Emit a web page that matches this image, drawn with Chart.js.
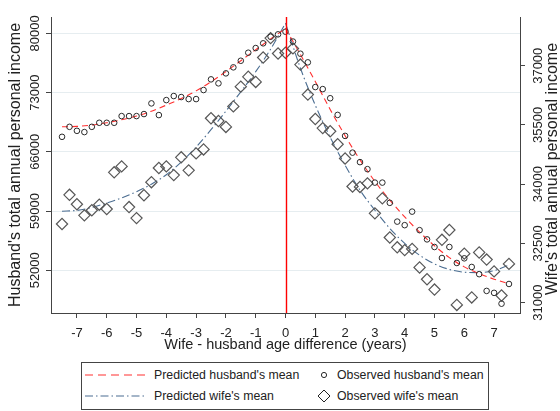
<!DOCTYPE html>
<html>
<head>
<meta charset="utf-8">
<script src="https://cdn.jsdelivr.net/npm/chart.js@4.4.1/dist/chart.umd.min.js"></script>
<style>
  body { margin: 0; background: #fff; }
  #wrap { position: relative; width: 560px; height: 411px; }
  #legend {
    position: absolute; left: 81px; top: 362px; width: 408px; height: 48px;
    box-sizing: border-box; border: 1px solid #444; background: #fff;
    font: 12.3px "Liberation Sans", Arial, sans-serif; color: #222;
  }
  #legend .item { position: absolute; height: 16px; line-height: 16px; white-space: nowrap; }
  #legend svg { position: absolute; top: 0; }
</style>
</head>
<body>
<div id="wrap">
  <canvas id="grafik" width="560" height="411"></canvas>
  <div id="legend"></div>
</div>
<script>
// wife - husband age difference (years), observed points
const ageDiff = [-7.5, -7.25, -7, -6.75, -6.5, -6.25, -6, -5.75, -5.5, -5.25, -5, -4.75, -4.5, -4.25, -4, -3.75,
  -3.5, -3.25, -3, -2.75, -2.5, -2.25, -2, -1.75, -1.5, -1.25, -1, -0.75, -0.5, -0.25, 0,
  0.25, 0.5, 0.75, 1, 1.25, 1.5, 1.75, 2, 2.25, 2.5, 2.75, 3, 3.25, 3.5, 3.75, 4,
  4.25, 4.5, 4.75, 5, 5.25, 5.5, 5.75, 6, 6.25, 6.5, 6.75, 7, 7.25, 7.5];

const husbandObserved = [67770, 68950, 68480, 68330, 68950, 69430, 69430, 69430, 70220, 70220, 70220, 70460, 71720, 70340, 72110, 72590,
  72470, 72230, 72230, 73300, 74560, 74090, 75270, 75980, 76760, 77710, 78260, 78820, 79600, 79880, 80190,
  79030, 77590, 76570, 73650, 73410, 72330, 70360, 67880, 65900, 64780, 63950, 62360, 62360, 59970, 57750, 57330,
  58930, 56740, 55650, 54750, 53450, 54750, 52860, 53410, 52390, 51540, 49560, 49330, 48050, 50380];

const wifeObserved = [32990, 33730, 33490, 33210, 33340, 33480, 33370, 34300, 34450, 33420, 33140, 33720, 34050, 34410, 34450, 34230,
  34680, 34350, 34780, 34880, 35670, 35600, 35450, 35970, 36470, 36720, 36590, 37210, 37700, 37310, 37330,
  37440, 37030, 36270, 35650, 35420, 35340, 35010, 34650, 33940, 33930, 34020, 33260, 33640, 32650, 32400, 32330,
  32360, 31890, 31590, 31330, 32590, 32840, 30940, 32240, 31130, 32270, 32090, 31790, 31180, 31980];

// fitted curves, either side of zero
const predAgeLeft = [-7.5, -7, -6.5, -6, -5.5, -5, -4.5, -4, -3.5, -3, -2.5, -2, -1.5, -1, -0.5, 0];
const predAgeRight = [0, 0.5, 1, 1.5, 2, 2.5, 3, 3.5, 4, 4.5, 5, 5.5, 6, 6.5, 7, 7.5];
const husbandPredLeft = [68960, 69000, 69170, 69430, 69780, 70220, 70800, 71520, 72300, 73200, 74280, 75480, 76760, 78060, 79330, 80570];
const husbandPredRight = [80570, 77500, 74300, 71000, 67900, 65050, 62500, 60300, 58300, 56500, 54900, 53500, 52400, 51600, 50950, 50400];
const wifePredLeft = [33315, 33335, 33410, 33520, 33650, 33810, 34000, 34240, 34560, 34940, 35380, 35850, 36340, 36850, 37420, 38080];
const wifePredRight = [38080, 36940, 36000, 35190, 34480, 33850, 33340, 32880, 32500, 32200, 31980, 31840, 31770, 31760, 31810, 31950];

const ageTicks = [-7, -6, -5, -4, -3, -2, -1, 0, 1, 2, 3, 4, 5, 6, 7];
const husbandTicks = [52000, 59000, 66000, 73000, 80000];
const wifeTicks = [31000, 32500, 34000, 35500, 37000];
const zeroLine = 0;

const husbandRange = [46950, 81930];
const wifeRange = [30736, 38235];
const ageRange = [-7.87, 7.87];

const names = ["Predicted husband's mean", "Observed husband's mean", "Predicted wife's mean", "Observed wife's mean"];
const husbandAxisTitle = "Husband's total annual personal income";
const wifeAxisTitle = "Wife's total annual personal income";
const ageAxisTitle = "Wife - husband age difference (years)";

const RED = "#ff3030";
const BLUE = "#4b6d91";

function pairs(xs, ys) {
    return xs.map(function (x, i) { return { x: x, y: ys[i] }; });
}

document.addEventListener("DOMContentLoaded", function () {
    Chart.defaults.font.family = "'Liberation Sans', Arial, sans-serif";
    Chart.defaults.color = "#222";

    const ctx = document.getElementById("grafik").getContext("2d");

    const lineStyle = { type: "line", showLine: true, pointRadius: 0, borderWidth: 1.1, fill: false, cubicInterpolationMode: "monotone" };

    // red reference line at zero age difference + right-hand axis title
    const extras = {
        id: "extras",
        afterDraw: function (chart) {
            const c = chart.ctx, area = chart.chartArea, s = chart.scales.y2;
            const px = Math.round(chart.scales.x.getPixelForValue(zeroLine)) + 0.5;
            c.save();
            c.strokeStyle = "#ff0000";
            c.lineWidth = 1.4;
            c.beginPath();
            c.moveTo(px, area.top);
            c.lineTo(px, area.bottom);
            c.stroke();
            c.restore();

            c.save();
            c.translate(s.right - 7.5, (area.top + area.bottom) / 2 + 4);
            c.rotate(-Math.PI / 2);
            c.font = "16px 'Liberation Sans', Arial, sans-serif";
            c.fillStyle = "#222";
            c.textAlign = "center";
            c.textBaseline = "middle";
            c.fillText(wifeAxisTitle, 0, 0);
            c.restore();
        }
    };

    new Chart(ctx, {
        type: "scatter",
        data: {
            datasets: [
                { label: names[1], data: pairs(ageDiff, husbandObserved), yAxisID: "y",
                  pointStyle: "circle", pointRadius: 2.8, borderColor: "#2a2a2a", backgroundColor: "rgba(0,0,0,0)", borderWidth: 1 },
                { label: names[3], data: pairs(ageDiff, wifeObserved), yAxisID: "y2",
                  pointStyle: "rectRot", pointRadius: 5.6, borderColor: "#575757", backgroundColor: "rgba(0,0,0,0)", borderWidth: 1.2 },
                Object.assign({ label: names[0], data: pairs(predAgeLeft, husbandPredLeft), yAxisID: "y",
                  borderColor: RED, borderDash: [6, 4] }, lineStyle),
                Object.assign({ label: names[0], data: pairs(predAgeRight, husbandPredRight), yAxisID: "y",
                  borderColor: RED, borderDash: [6, 4] }, lineStyle),
                Object.assign({ label: names[2], data: pairs(predAgeLeft, wifePredLeft), yAxisID: "y2",
                  borderColor: BLUE, borderDash: [8, 3, 1.5, 3] }, lineStyle),
                Object.assign({ label: names[2], data: pairs(predAgeRight, wifePredRight), yAxisID: "y2",
                  borderColor: BLUE, borderDash: [8, 3, 1.5, 3] }, lineStyle)
            ]
        },
        options: {
            responsive: false,
            animation: false,
            layout: { padding: { top: 17, bottom: 56, left: 0, right: 0 } },
            plugins: { legend: { display: false }, tooltip: { enabled: false } },
            scales: {
                x: {
                    type: "linear", min: ageRange[0], max: ageRange[1],
                    afterBuildTicks: function (s) { s.ticks = ageTicks.map(function (v) { return { value: v }; }); },
                    afterFit: function (s) { s.height = 42; },
                    ticks: { font: { size: 13 }, padding: 8, autoSkip: false, maxRotation: 0,
                             callback: function (v) { return String(v); } },
                    grid: { display: true, drawOnChartArea: false, drawTicks: true, tickLength: 5, color: "#444" },
                    border: { display: true, color: "#444", width: 1 },
                    title: { display: true, text: ageAxisTitle, font: { size: 14.5 }, padding: { top: 0, bottom: 1 } }
                },
                y: {
                    type: "linear", position: "left", min: husbandRange[0], max: husbandRange[1],
                    afterBuildTicks: function (s) { s.ticks = husbandTicks.map(function (v) { return { value: v }; }); },
                    afterFit: function (s) { s.width = 51; },
                    ticks: { font: { size: 13 }, padding: -7, crossAlign: "center", minRotation: 90, maxRotation: 90,
                             autoSkip: false, callback: function (v) { return String(v); } },
                    grid: { color: "#e6edf0", tickColor: "#444", tickLength: 5, lineWidth: 1 },
                    border: { display: true, color: "#444", width: 1 },
                    title: { display: true, text: husbandAxisTitle, font: { size: 16 }, padding: { top: 6.4, bottom: 0 } }
                },
                y2: {
                    type: "linear", position: "right", min: wifeRange[0], max: wifeRange[1],
                    afterBuildTicks: function (s) { s.ticks = wifeTicks.map(function (v) { return { value: v }; }); },
                    afterFit: function (s) { s.width = 40; },
                    ticks: { font: { size: 13 }, padding: -5, crossAlign: "center", minRotation: 90, maxRotation: 90,
                             autoSkip: false, callback: function (v) { return String(v); } },
                    grid: { drawOnChartArea: false, color: "#444", tickLength: 5 },
                    border: { display: true, color: "#444", width: 1 }
                }
            }
        },
        plugins: [extras]
    });

    // legend box, two columns like the original
    const legend = document.getElementById("legend");
    const rows = [12, 33];
    function line(dash, color) {
        return '<svg width="60" height="16"><line x1="0" y1="8" x2="60" y2="8" stroke="' + color +
            '" stroke-width="1.2" stroke-dasharray="' + dash + '"/></svg>';
    }
    const entries = [
        { icon: line("8,5", RED), left: 3, text: 72, row: 0, name: names[0] },
        { icon: '<svg width="12" height="16"><circle cx="6" cy="8" r="2.6" fill="none" stroke="#2a2a2a" stroke-width="1"/></svg>',
          left: 236, text: 255, row: 0, name: names[1] },
        { icon: line("8,3,1.5,3", BLUE), left: 3, text: 72, row: 1, name: names[2] },
        { icon: '<svg width="14" height="16"><path d="M7 2 L13 8 L7 14 L1 8 Z" fill="none" stroke="#222" stroke-width="1"/></svg>',
          left: 235, text: 255, row: 1, name: names[3] }
    ];
    entries.forEach(function (e) {
        const icon = document.createElement("div");
        icon.className = "item";
        icon.style.left = e.left + "px";
        icon.style.top = (rows[e.row] - 8) + "px";
        icon.innerHTML = e.icon;
        legend.appendChild(icon);
        const t = document.createElement("div");
        t.className = "item";
        t.style.left = e.text + "px";
        t.style.top = (rows[e.row] - 8) + "px";
        t.textContent = e.name;
        legend.appendChild(t);
    });
});
</script>
</body>
</html>
